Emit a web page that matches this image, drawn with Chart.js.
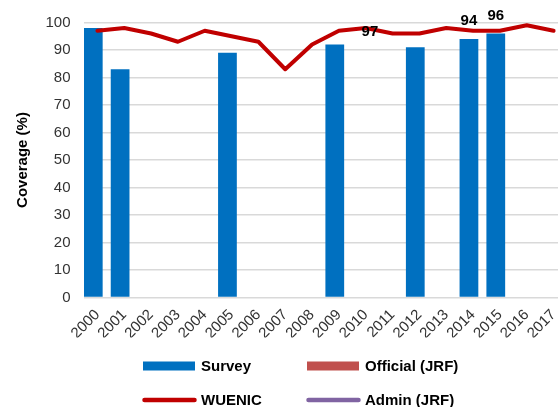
<!DOCTYPE html>
<html>
<head>
<meta charset="utf-8">
<script src="https://cdn.jsdelivr.net/npm/chart.js@4.4.1/dist/chart.umd.min.js"></script>
<style>
  html, body { margin: 0; padding: 0; background: #ffffff; overflow: hidden; }
  #wrap { position: relative; width: 575px; height: 407px; }
</style>
</head>
<body>
<div id="wrap"><canvas id="chart"></canvas></div>
<script>
// Immunization coverage by year
const years = ['2000','2001','2002','2003','2004','2005','2006','2007','2008',
               '2009','2010','2011','2012','2013','2014','2015','2016','2017'];
const survey      = [98, 83, null, null, null, 89, null, null, null, 92, null, null, 91, null, 94, 96, null, null];
const officialJrf = [null, null, null, null, null, null, null, null, null, null, 97, null, null, null, null, null, null, null];
const wuenic      = [97, 98, 96, 93, 97, 95, 93, 83, 92, 97, 98, 96, 96, 98, 97, 97, 99, 97];
const adminJrf    = [null, null, null, null, null, null, null, null, null, null, null, null, null, null, null, null, null, null];
const yTickValues = [0, 10, 20, 30, 40, 50, 60, 70, 80, 90, 100];

// years whose values are printed next to the mark
const surveyLabelYears   = ['2014', '2015'];
const officialLabelYears = ['2010'];

const COLORS = {
  survey: '#0070C0',
  official: '#C0504D',
  wuenic: '#C00000',
  admin: '#8064A2',
  grid: '#D9D9D9',
  tick: '#333333',
  text: '#000000'
};
const FONT = "'Liberation Sans', Arial, sans-serif";

// value labels for bar datasets
const valueLabels = {
  id: 'valueLabels',
  afterDatasetsDraw(chart) {
    const ctx = chart.ctx;
    ctx.save();
    ctx.font = 'bold 15px ' + FONT;
    ctx.fillStyle = COLORS.text;
    ctx.textAlign = 'center';
    ctx.textBaseline = 'middle';
    chart.data.datasets.forEach((ds, di) => {
      if (!ds.labelYears) return;
      const meta = chart.getDatasetMeta(di);
      ds.labelYears.forEach(yr => {
        const i = years.indexOf(yr);
        const el = meta.data[i];
        const v = ds.data[i];
        if (!el || v == null) return;
        const y = ds.labelAnchor === 'center' ? el.y + 1 : el.y - 18;
        ctx.fillText(String(v), el.x, y);
      });
    });
    ctx.restore();
  }
};

// two-column legend under the axis
const gridLegend = {
  id: 'gridLegend',
  afterDraw(chart) {
    const ctx = chart.ctx;
    const items = [
      { text: 'Survey',         kind: 'box',  color: COLORS.survey,   x: 143, y: 366 },
      { text: 'Official (JRF)', kind: 'box',  color: COLORS.official, x: 307, y: 366 },
      { text: 'WUENIC',         kind: 'line', color: COLORS.wuenic,   x: 143, y: 400 },
      { text: 'Admin (JRF)',    kind: 'line', color: COLORS.admin,    x: 307, y: 400 }
    ];
    ctx.save();
    items.forEach(it => {
      if (it.kind === 'box') {
        ctx.fillStyle = it.color;
        ctx.fillRect(it.x, it.y - 4.5, 52, 9);
      } else {
        ctx.strokeStyle = it.color;
        ctx.lineWidth = 4.5;
        ctx.lineCap = 'round';
        ctx.beginPath();
        ctx.moveTo(it.x + 1.5, it.y);
        ctx.lineTo(it.x + 51.5, it.y);
        ctx.stroke();
      }
      ctx.font = 'bold 15px ' + FONT;
      ctx.fillStyle = COLORS.text;
      ctx.textAlign = 'left';
      ctx.textBaseline = 'middle';
      ctx.fillText(it.text, it.x + 58, it.y + 0.5);
    });
    ctx.restore();
  }
};

new Chart(document.getElementById('chart'), {
  data: {
    labels: years,
    datasets: [
      {
        type: 'line', label: 'WUENIC', data: wuenic, order: 0,
        borderColor: COLORS.wuenic, backgroundColor: COLORS.wuenic,
        borderWidth: 4, pointRadius: 0, tension: 0,
        borderJoinStyle: 'round', borderCapStyle: 'round'
      },
      {
        type: 'line', label: 'Admin (JRF)', data: adminJrf, order: 1,
        borderColor: COLORS.admin, backgroundColor: COLORS.admin,
        borderWidth: 4, pointRadius: 0
      },
      {
        type: 'bar', label: 'Survey', data: survey, order: 2,
        backgroundColor: COLORS.survey, borderWidth: 0,
        categoryPercentage: 0.617, barPercentage: 2.265,
        labelYears: surveyLabelYears, labelAnchor: 'end'
      },
      {
        type: 'bar', label: 'Official (JRF)', data: officialJrf, order: 3,
        backgroundColor: 'rgba(192,80,77,0)', borderWidth: 0,
        categoryPercentage: 0.617, barPercentage: 2.265,
        labelYears: officialLabelYears, labelAnchor: 'center'
      }
    ]
  },
  options: {
    responsive: true,
    maintainAspectRatio: false,
    devicePixelRatio: 1,
    animation: false,
    layout: { padding: { top: 19.3, right: 6.6, bottom: 69.5, left: 0 } },
    plugins: { legend: { display: false }, tooltip: { enabled: false } },
    scales: {
      x: {
        type: 'category',
        offset: true,
        grid: { display: false, drawTicks: false },
        border: { display: false },
        ticks: {
          autoSkip: false, maxRotation: 45, minRotation: 45, padding: 8.5,
          color: COLORS.tick, font: { family: FONT, size: 15 }
        },
        afterFit(scale) { scale.height = 40; }
      },
      y: {
        min: 0, max: 100,
        afterBuildTicks(scale) { scale.ticks = yTickValues.map(v => ({ value: v })); },
        grid: { color: COLORS.grid, lineWidth: 1.5, drawTicks: false },
        border: { display: false },
        ticks: { padding: 13.5, color: COLORS.tick, font: { family: FONT, size: 15 } },
        title: {
          display: true, text: 'Coverage (%)', color: COLORS.text,
          font: { family: FONT, size: 15, weight: 'bold' },
          padding: { top: 14, bottom: 0 }
        },
        afterFit(scale) { scale.width = 84; }
      }
    }
  },
  plugins: [valueLabels, gridLegend]
});
</script>
</body>
</html>
